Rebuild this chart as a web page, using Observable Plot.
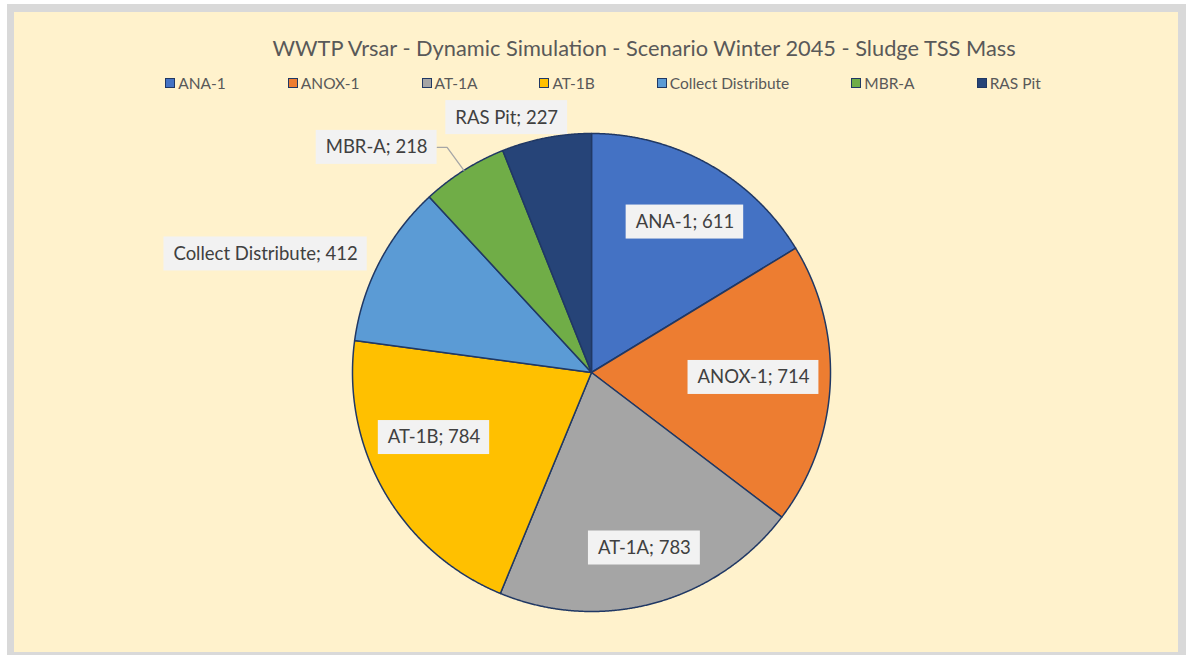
<!DOCTYPE html>
<html>
<head>
<meta charset="utf-8">
<script src="https://cdn.jsdelivr.net/npm/d3@7"></script>
<script src="https://cdn.jsdelivr.net/npm/@observablehq/plot@0.6"></script>
<style>
  html, body { margin: 0; padding: 0; background: #ffffff; width: 1192px; height: 655px; overflow: hidden; }
  #frame { position: absolute; left: 7px; top: 4px; width: 1179px; height: 660px; background: #D9D9D9; }
  #inner { position: absolute; left: 7px; top: 8px; width: 1164px; height: 640px; background: #FFF2CC; overflow: hidden; }
  #title { position: absolute; left: 0; top: 23px; width: 1260px; text-align: center; white-space: nowrap;
           font-family: Lato, "Open Sans", sans-serif; font-size: 21.8px; line-height: 26px; color: #595959; }
  #legend { position: absolute; left: 0; top: 62px; width: 1178px; display: flex; justify-content: center; gap: 62px;
            font-family: Lato, "Open Sans", sans-serif; font-size: 15.5px; line-height: 18px; color: #595959; white-space: nowrap; }
  .item { display: flex; align-items: center; }
  .sw { width: 8px; height: 8px; border: 1px solid #203864; margin-right: 3px; }
  #chart { position: absolute; left: 0; top: 88px; }
</style>
</head>
<body>
<div id="frame"><div id="inner">
  <div id="title"></div>
  <div id="legend"></div>
  <div id="chart"></div>
</div></div>
<script>
const titleText = "WWTP Vrsar - Dynamic Simulation - Scenario Winter 2045 - Sludge TSS Mass";
const names = ["ANA-1", "ANOX-1", "AT-1A", "AT-1B", "Collect Distribute", "MBR-A", "RAS Pit"];
const values = [611, 714, 783, 784, 412, 218, 227];
const colors = ["#4472C4", "#ED7D31", "#A5A5A5", "#FFC000", "#5B9BD5", "#70AD47", "#264478"];
// label placement (layout only): radius as fraction of pie radius, angular offset from slice middle (degrees)
const labelRadius = [0.741, 0.678, 0.767, 0.713, 1.451, 1.302, 1.124];
const labelAngleOffset = [2.5, -1.2, -1.6, 7.5, -7.5, -11.4, -7.5];
const leaderFor = ["MBR-A"];

document.getElementById("title").textContent = titleText;
const legend = document.getElementById("legend");
names.forEach((n, i) => {
  const it = document.createElement("div"); it.className = "item";
  const sw = document.createElement("div"); sw.className = "sw"; sw.style.background = colors[i];
  const t = document.createElement("span"); t.textContent = n;
  it.appendChild(sw); it.appendChild(t); legend.appendChild(it);
});

const R = 239; // pie radius in px
const cx = 577, cy = 272;
const W = 1164, H = 550;
const fontSize = 18.5;

const arcs = d3.pie().sort(null).value(d => d)(values);
const slicePts = [];
arcs.forEach((a, i) => {
  const name = names[i];
  slicePts.push({name, x: 0, y: 0});
  const n = Math.max(2, Math.ceil((a.endAngle - a.startAngle) / 0.004));
  for (let k = 0; k <= n; k++) {
    const t = a.startAngle + (a.endAngle - a.startAngle) * k / n;
    slicePts.push({name, x: Math.sin(t), y: Math.cos(t)});
  }
  slicePts.push({name, x: 0, y: 0});
});

const ctx = document.createElement("canvas").getContext("2d");
ctx.font = `${fontSize}px Lato`;
const padX = 9.5, boxH = 34;
const labels = arcs.map((a, i) => {
  const mid = (a.startAngle + a.endAngle) / 2;
  const ang = mid + labelAngleOffset[i] * Math.PI / 180;
  const text = `${names[i]}; ${values[i]}`;
  const tw = ctx.measureText(text).width;
  const hw = (tw / 2 + padX) / R, hh = (boxH / 2) / R;
  const x = labelRadius[i] * Math.sin(ang), y = labelRadius[i] * Math.cos(ang);
  return {name: names[i], text, mid, x, y, x1: x - hw, x2: x + hw, y1: y - hh, y2: y + hh};
});

const leaders = [];
labels.filter(d => leaderFor.includes(d.name)).forEach(d => {
  leaders.push({name: d.name, x: Math.sin(d.mid), y: Math.cos(d.mid)});
  leaders.push({name: d.name, x: d.x2 + 10 / R, y: d.y});
  leaders.push({name: d.name, x: d.x2, y: d.y});
});

const chart = Plot.plot({
  width: W, height: H, margin: 0,
  style: {background: "transparent", overflow: "visible"},
  x: {domain: [-1, 1], range: [cx - R, cx + R], axis: null},
  y: {domain: [-1, 1], range: [cy + R, cy - R], axis: null},
  color: {domain: names, range: colors},
  marks: [
    Plot.line(slicePts, {x: "x", y: "y", z: "name", fill: "name", stroke: "#203864", strokeWidth: 1.5, strokeLinejoin: "round"}),
    Plot.line(leaders, {x: "x", y: "y", z: "name", stroke: "#A6A6A6", strokeWidth: 1.3}),
    Plot.rect(labels, {x1: "x1", x2: "x2", y1: "y1", y2: "y2", fill: "#F2F2F2"}),
    Plot.text(labels, {x: "x", y: "y", text: "text", fill: "#404040", fontSize: fontSize, fontFamily: "Lato"})
  ]
});
document.getElementById("chart").appendChild(chart);
</script>
</body>
</html>
